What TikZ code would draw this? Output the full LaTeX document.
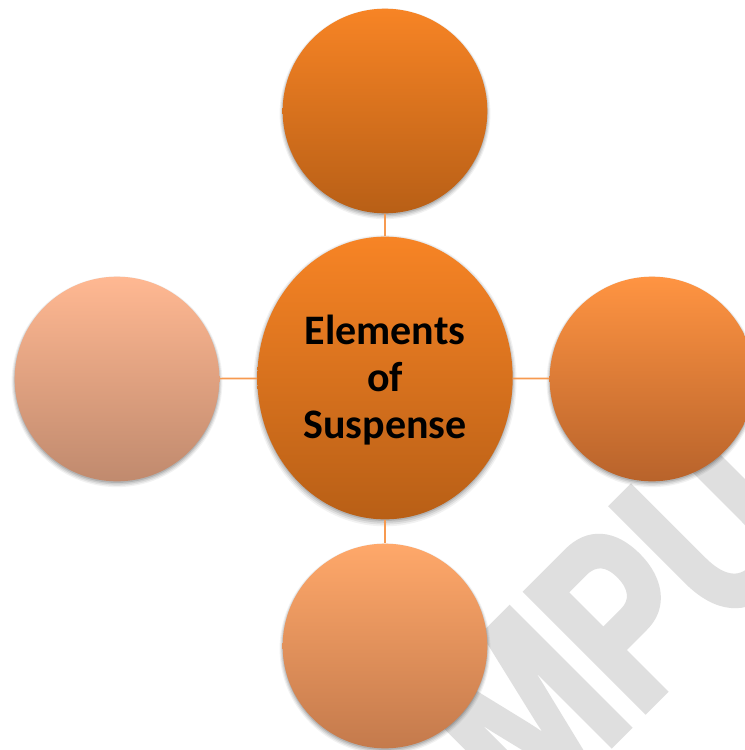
\documentclass[tikz,border=0pt]{standalone}
\usepackage{fontspec}
\setmainfont{Carlito}
\newfontface\markfont{Liberation Sans Bold}[FakeStretch=0.75,FakeBold=2.5]
\usetikzlibrary{shadows,shapes.geometric}
\definecolor{linkcol}{HTML}{F79A50}
\definecolor{markcol}{HTML}{DFDFDF}
\definecolor{hubtop}{HTML}{F78425}
\definecolor{hubbot}{HTML}{B85F16}
\definecolor{rtop}{HTML}{FF9442}
\definecolor{rbot}{HTML}{B8632B}
\definecolor{btop}{HTML}{FFA86A}
\definecolor{bbot}{HTML}{C47A4C}
\definecolor{ltop}{HTML}{FFB892}
\definecolor{lbot}{HTML}{C08A6E}
\tikzset{
  x=0.75pt,y=-0.75pt,
  softshadow/.style={
    general shadow={shadow xshift=0pt,shadow yshift=-2pt,shadow scale=1.03,fill=black,fill opacity=.05},
    general shadow={shadow xshift=0pt,shadow yshift=-1.8pt,shadow scale=1.02,fill=black,fill opacity=.07},
    general shadow={shadow xshift=0pt,shadow yshift=-1.5pt,shadow scale=1.01,fill=black,fill opacity=.09},
    general shadow={shadow xshift=0pt,shadow yshift=-1.2pt,shadow scale=1.0,fill=black,fill opacity=.12}},
  ball/.style={circle,minimum size=153.5pt,inner sep=0pt,softshadow},
  hub/.style={ellipse,inner sep=0pt,minimum width=191.5pt,minimum height=212pt,top color=hubtop,bottom color=hubbot,softshadow},
  hubtext/.style={anchor=center,align=center,font=\bfseries\fontsize{31.5pt}{35pt}\selectfont,inner sep=0pt},
  link/.style={draw=linkcol,line width=1.3pt},
}
\begin{document}
\begin{tikzpicture}
\useasboundingbox (0,0) rectangle (745,750);
\begin{scope}
\clip (0,0) rectangle (745,750);
\fill[white] (0,0) rectangle (745,750);
\node[anchor=base west,rotate=45,inner sep=0pt,text=markcol,font=\markfont\fontsize{183pt}{183pt}\selectfont] (mark) at (529,827) {MPU};
\node[hub] (c) at (385,378) {};
\node[hubtext] (ct) at (385,380) {Elements\\of\\Suspense};
\node[ball,top color=hubtop,bottom color=hubbot] (t) at (385,111) {};
\node[ball,top color=rtop,bottom color=rbot] (r) at (652,379) {};
\node[ball,top color=btop,bottom color=bbot] (b) at (385,646) {};
\node[ball,top color=ltop,bottom color=lbot] (l) at (117,379) {};
\draw[link] (c) -- (t);
\draw[link] (c) -- (r);
\draw[link] (c) -- (b);
\draw[link] (c) -- (l);
\end{scope}
\end{tikzpicture}
\end{document}
